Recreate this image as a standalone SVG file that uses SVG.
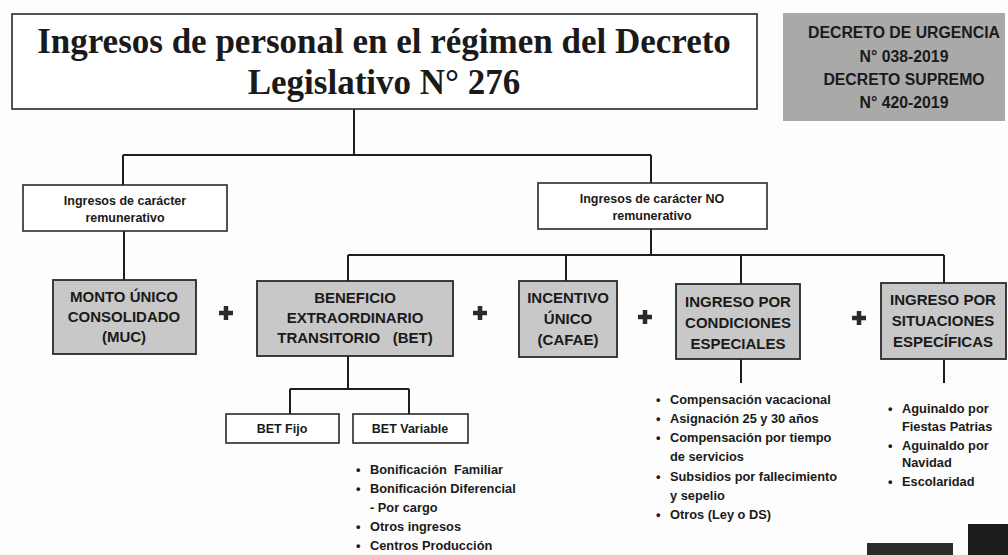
<svg xmlns="http://www.w3.org/2000/svg" width="1008" height="555" viewBox="0 0 1008 555">
<style>
.bx{fill:#ffffff;stroke:#2a2a2a;stroke-width:1.6}
.gb{fill:#c8c8c8;stroke:#2a2a2a;stroke-width:1.8}
.ln{fill:none;stroke:#1e1e1e;stroke-width:2}
.t{font-family:"Liberation Sans",Arial,sans-serif;font-weight:bold;fill:#1a1a1a;text-anchor:middle}
.s{font-size:12.5px}
.m{font-size:15px}
.d{font-size:15.8px}
.l{font-family:"Liberation Sans",Arial,sans-serif;font-weight:bold;fill:#1a1a1a;font-size:12.8px}
.plus{fill:none;stroke:#2a2a2a;stroke-width:4.5}
.ttl{font-family:"Liberation Serif","Times New Roman",serif;font-weight:bold;font-size:35px;fill:#1a1a1a;text-anchor:middle}
</style>
<rect width="1008" height="555" fill="#fdfdfd"/>
<g id="connectors">
<path class="ln" d="M354 109V155M123 155H651M123 155V185M651 155V183"/>
<path class="ln" d="M124 231V280"/>
<path class="ln" d="M651 229V255M348 255H944M348 255V281M566 255V281M741 255V284M944 255V283"/>
<path class="ln" d="M348 356V389M290 389H409M290 389V414M409 389V414"/>
<path class="ln" d="M741 359V383M944 359V383"/>
</g>
<g id="title">
<rect class="bx" x="12" y="14" width="745" height="95"/>
<text class="ttl" x="384" y="53">Ingresos de personal en el régimen del Decreto</text>
<text class="ttl" x="384" y="94">Legislativo N° 276</text>
</g>
<g id="decreto">
<rect x="783" y="13" width="222" height="108" fill="#a9a9a9"/>
<text class="t d" x="904" y="38">DECRETO DE URGENCIA</text>
<text class="t d" x="904" y="62">N° 038-2019</text>
<text class="t d" x="904" y="85">DECRETO SUPREMO</text>
<text class="t d" x="904" y="108">N° 420-2019</text>
</g>
<g id="remunerativo">
<rect class="bx" x="23" y="185" width="204" height="46"/>
<text class="t s" x="125" y="205">Ingresos de carácter</text>
<text class="t s" x="125" y="222">remunerativo</text>
</g>
<g id="no-remunerativo">
<rect class="bx" x="538" y="183" width="229" height="46"/>
<text class="t s" x="652" y="203">Ingresos de carácter NO</text>
<text class="t s" x="652" y="220">remunerativo</text>
</g>
<g id="muc">
<rect class="gb" x="53" y="280" width="143" height="74"/>
<text class="t m" x="124" y="302">MONTO ÚNICO</text>
<text class="t m" x="124" y="322">CONSOLIDADO</text>
<text class="t m" x="124" y="342">(MUC)</text>
</g>
<g id="bet">
<rect class="gb" x="257" y="281" width="196" height="75"/>
<text class="t m" x="355" y="303">BENEFICIO</text>
<text class="t m" x="355" y="323">EXTRAORDINARIO</text>
<text class="t m" x="355" y="343" xml:space="preserve">TRANSITORIO   (BET)</text>
</g>
<g id="cafae">
<rect class="gb" x="519" y="281" width="98" height="76"/>
<text class="t m" x="568" y="303">INCENTIVO</text>
<text class="t m" x="568" y="324">ÚNICO</text>
<text class="t m" x="568" y="345">(CAFAE)</text>
</g>
<g id="condiciones">
<rect class="gb" x="676" y="284" width="124" height="75"/>
<text class="t m" x="738" y="307">INGRESO POR</text>
<text class="t m" x="738" y="328">CONDICIONES</text>
<text class="t m" x="738" y="349">ESPECIALES</text>
</g>
<g id="situaciones">
<rect class="gb" x="881" y="283" width="125" height="76"/>
<text class="t m" x="943" y="305">INGRESO POR</text>
<text class="t m" x="943" y="326">SITUACIONES</text>
<text class="t m" x="943" y="347">ESPECÍFICAS</text>
</g>
<g id="plus-signs">
<path class="plus" d="M219 313H233M226 306V320"/>
<path class="plus" d="M473 313H487M480 306V320"/>
<path class="plus" d="M638 317H652M645 310V324"/>
<path class="plus" d="M852 318H866M859 311V325"/>
</g>
<g id="bet-fijo">
<rect class="bx" x="226" y="414" width="113" height="29"/>
<text class="t" x="282" y="433" font-size="12.5">BET Fijo</text>
</g>
<g id="bet-variable">
<rect class="bx" x="353" y="414" width="115" height="29"/>
<text class="t" x="410" y="433" font-size="12.5">BET Variable</text>
</g>
<g id="bet-list">
<text class="l" x="356" y="474">•</text><text class="l" x="370" y="474" xml:space="preserve">Bonificación  Familiar</text>
<text class="l" x="356" y="493">•</text><text class="l" x="370" y="493">Bonificación Diferencial</text>
<text class="l" x="370" y="512">- Por cargo</text>
<text class="l" x="356" y="531">•</text><text class="l" x="370" y="531">Otros ingresos</text>
<text class="l" x="356" y="550">•</text><text class="l" x="370" y="550">Centros Producción</text>
</g>
<g id="condiciones-list">
<text class="l" x="656" y="404">•</text><text class="l" x="670" y="404">Compensación vacacional</text>
<text class="l" x="656" y="423">•</text><text class="l" x="670" y="423">Asignación 25 y 30 años</text>
<text class="l" x="656" y="442">•</text><text class="l" x="670" y="442">Compensación por tiempo</text>
<text class="l" x="670" y="461">de servicios</text>
<text class="l" x="656" y="481">•</text><text class="l" x="670" y="481">Subsidios por fallecimiento</text>
<text class="l" x="670" y="500">y sepelio</text>
<text class="l" x="656" y="519">•</text><text class="l" x="670" y="519">Otros (Ley o DS)</text>
</g>
<g id="situaciones-list">
<text class="l" x="888" y="413">•</text><text class="l" x="902" y="413">Aguinaldo por</text>
<text class="l" x="902" y="431">Fiestas Patrias</text>
<text class="l" x="888" y="450">•</text><text class="l" x="902" y="450">Aguinaldo por</text>
<text class="l" x="902" y="467">Navidad</text>
<text class="l" x="888" y="486">•</text><text class="l" x="902" y="486">Escolaridad</text>
</g>
<rect x="867" y="543" width="86" height="12" fill="#2b2b2b"/>
<rect x="968" y="524" width="40" height="31" fill="#1c1c1c"/>
</svg>
